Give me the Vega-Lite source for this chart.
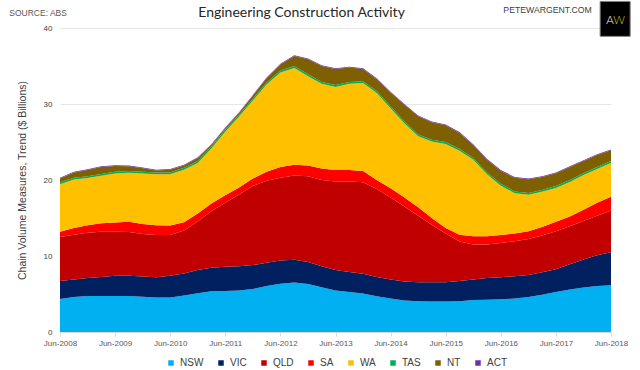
{"$schema":"https://vega.github.io/schema/vega-lite/v6.json","width":551,"height":304,"autosize":"none","padding":{"left":60,"top":28,"right":29,"bottom":38},"background":"white",
"datasets":{"notes":[{"t":"SOURCE: ABS","d":"2007/07/01","v":42.0}],"notesr":[{"t":"PETEWARGENT.COM","d":"2018/01/25","v":42.35}],"heading":[{"t":"Engineering Construction Activity","d":"2012/10/19","v":41.95}],"logo":[{"a":"2018/03/21","b":"2018/10/06","lo":38.9,"hi":43.5}],"logoa":[{"t":"A","d":"2018/05/25","v":40.9}],"logow":[{"t":"W","d":"2018/07/25","v":40.9}],
"main":[
{"d":"2008/06/01","s":"NSW","r":1,"v":4.35},{"d":"2008/09/01","s":"NSW","r":1,"v":4.6},{"d":"2008/12/01","s":"NSW","r":1,"v":4.75},{"d":"2009/03/01","s":"NSW","r":1,"v":4.75},{"d":"2009/06/01","s":"NSW","r":1,"v":4.75},{"d":"2009/09/01","s":"NSW","r":1,"v":4.75},{"d":"2009/12/01","s":"NSW","r":1,"v":4.65},{"d":"2010/03/01","s":"NSW","r":1,"v":4.55},{"d":"2010/06/01","s":"NSW","r":1,"v":4.55},{"d":"2010/09/01","s":"NSW","r":1,"v":4.8},{"d":"2010/12/01","s":"NSW","r":1,"v":5.1},{"d":"2011/03/01","s":"NSW","r":1,"v":5.35},{"d":"2011/06/01","s":"NSW","r":1,"v":5.4},{"d":"2011/09/01","s":"NSW","r":1,"v":5.45},{"d":"2011/12/01","s":"NSW","r":1,"v":5.65},{"d":"2012/03/01","s":"NSW","r":1,"v":6.05},{"d":"2012/06/01","s":"NSW","r":1,"v":6.35},{"d":"2012/09/01","s":"NSW","r":1,"v":6.5},{"d":"2012/12/01","s":"NSW","r":1,"v":6.3},{"d":"2013/03/01","s":"NSW","r":1,"v":5.9},{"d":"2013/06/01","s":"NSW","r":1,"v":5.45},{"d":"2013/09/01","s":"NSW","r":1,"v":5.25},{"d":"2013/12/01","s":"NSW","r":1,"v":5.05},{"d":"2014/03/01","s":"NSW","r":1,"v":4.7},{"d":"2014/06/01","s":"NSW","r":1,"v":4.4},{"d":"2014/09/01","s":"NSW","r":1,"v":4.15},{"d":"2014/12/01","s":"NSW","r":1,"v":4.05},{"d":"2015/03/01","s":"NSW","r":1,"v":4.0},{"d":"2015/06/01","s":"NSW","r":1,"v":4.0},{"d":"2015/09/01","s":"NSW","r":1,"v":4.05},{"d":"2015/12/01","s":"NSW","r":1,"v":4.2},{"d":"2016/03/01","s":"NSW","r":1,"v":4.25},{"d":"2016/06/01","s":"NSW","r":1,"v":4.3},{"d":"2016/09/01","s":"NSW","r":1,"v":4.4},{"d":"2016/12/01","s":"NSW","r":1,"v":4.6},{"d":"2017/03/01","s":"NSW","r":1,"v":4.9},{"d":"2017/06/01","s":"NSW","r":1,"v":5.25},{"d":"2017/09/01","s":"NSW","r":1,"v":5.6},{"d":"2017/12/01","s":"NSW","r":1,"v":5.85},{"d":"2018/03/01","s":"NSW","r":1,"v":6.05},{"d":"2018/06/01","s":"NSW","r":1,"v":6.15},
{"d":"2008/06/01","s":"VIC","r":2,"v":2.35},{"d":"2008/09/01","s":"VIC","r":2,"v":2.3},{"d":"2008/12/01","s":"VIC","r":2,"v":2.35},{"d":"2009/03/01","s":"VIC","r":2,"v":2.5},{"d":"2009/06/01","s":"VIC","r":2,"v":2.65},{"d":"2009/09/01","s":"VIC","r":2,"v":2.65},{"d":"2009/12/01","s":"VIC","r":2,"v":2.65},{"d":"2010/03/01","s":"VIC","r":2,"v":2.65},{"d":"2010/06/01","s":"VIC","r":2,"v":2.85},{"d":"2010/09/01","s":"VIC","r":2,"v":2.9},{"d":"2010/12/01","s":"VIC","r":2,"v":3.05},{"d":"2011/03/01","s":"VIC","r":2,"v":3.1},{"d":"2011/06/01","s":"VIC","r":2,"v":3.2},{"d":"2011/09/01","s":"VIC","r":2,"v":3.2},{"d":"2011/12/01","s":"VIC","r":2,"v":3.15},{"d":"2012/03/01","s":"VIC","r":2,"v":3.05},{"d":"2012/06/01","s":"VIC","r":2,"v":3.05},{"d":"2012/09/01","s":"VIC","r":2,"v":3.0},{"d":"2012/12/01","s":"VIC","r":2,"v":2.9},{"d":"2013/03/01","s":"VIC","r":2,"v":2.75},{"d":"2013/06/01","s":"VIC","r":2,"v":2.7},{"d":"2013/09/01","s":"VIC","r":2,"v":2.65},{"d":"2013/12/01","s":"VIC","r":2,"v":2.6},{"d":"2014/03/01","s":"VIC","r":2,"v":2.55},{"d":"2014/06/01","s":"VIC","r":2,"v":2.5},{"d":"2014/09/01","s":"VIC","r":2,"v":2.5},{"d":"2014/12/01","s":"VIC","r":2,"v":2.5},{"d":"2015/03/01","s":"VIC","r":2,"v":2.55},{"d":"2015/06/01","s":"VIC","r":2,"v":2.55},{"d":"2015/09/01","s":"VIC","r":2,"v":2.65},{"d":"2015/12/01","s":"VIC","r":2,"v":2.7},{"d":"2016/03/01","s":"VIC","r":2,"v":2.85},{"d":"2016/06/01","s":"VIC","r":2,"v":2.9},{"d":"2016/09/01","s":"VIC","r":2,"v":2.95},{"d":"2016/12/01","s":"VIC","r":2,"v":2.9},{"d":"2017/03/01","s":"VIC","r":2,"v":2.95},{"d":"2017/06/01","s":"VIC","r":2,"v":3.0},{"d":"2017/09/01","s":"VIC","r":2,"v":3.3},{"d":"2017/12/01","s":"VIC","r":2,"v":3.7},{"d":"2018/03/01","s":"VIC","r":2,"v":4.05},{"d":"2018/06/01","s":"VIC","r":2,"v":4.35},
{"d":"2008/06/01","s":"QLD","r":3,"v":5.8},{"d":"2008/09/01","s":"QLD","r":3,"v":5.9},{"d":"2008/12/01","s":"QLD","r":3,"v":5.95},{"d":"2009/03/01","s":"QLD","r":3,"v":5.95},{"d":"2009/06/01","s":"QLD","r":3,"v":5.8},{"d":"2009/09/01","s":"QLD","r":3,"v":5.75},{"d":"2009/12/01","s":"QLD","r":3,"v":5.6},{"d":"2010/03/01","s":"QLD","r":3,"v":5.55},{"d":"2010/06/01","s":"QLD","r":3,"v":5.35},{"d":"2010/09/01","s":"QLD","r":3,"v":5.65},{"d":"2010/12/01","s":"QLD","r":3,"v":6.4},{"d":"2011/03/01","s":"QLD","r":3,"v":7.45},{"d":"2011/06/01","s":"QLD","r":3,"v":8.4},{"d":"2011/09/01","s":"QLD","r":3,"v":9.45},{"d":"2011/12/01","s":"QLD","r":3,"v":10.4},{"d":"2012/03/01","s":"QLD","r":3,"v":10.8},{"d":"2012/06/01","s":"QLD","r":3,"v":10.9},{"d":"2012/09/01","s":"QLD","r":3,"v":11.1},{"d":"2012/12/01","s":"QLD","r":3,"v":11.3},{"d":"2013/03/01","s":"QLD","r":3,"v":11.35},{"d":"2013/06/01","s":"QLD","r":3,"v":11.65},{"d":"2013/09/01","s":"QLD","r":3,"v":11.9},{"d":"2013/12/01","s":"QLD","r":3,"v":12.05},{"d":"2014/03/01","s":"QLD","r":3,"v":11.55},{"d":"2014/06/01","s":"QLD","r":3,"v":10.8},{"d":"2014/09/01","s":"QLD","r":3,"v":9.85},{"d":"2014/12/01","s":"QLD","r":3,"v":8.75},{"d":"2015/03/01","s":"QLD","r":3,"v":7.55},{"d":"2015/06/01","s":"QLD","r":3,"v":6.4},{"d":"2015/09/01","s":"QLD","r":3,"v":5.2},{"d":"2015/12/01","s":"QLD","r":3,"v":4.6},{"d":"2016/03/01","s":"QLD","r":3,"v":4.4},{"d":"2016/06/01","s":"QLD","r":3,"v":4.5},{"d":"2016/09/01","s":"QLD","r":3,"v":4.6},{"d":"2016/12/01","s":"QLD","r":3,"v":4.75},{"d":"2017/03/01","s":"QLD","r":3,"v":4.85},{"d":"2017/06/01","s":"QLD","r":3,"v":5.0},{"d":"2017/09/01","s":"QLD","r":3,"v":5.0},{"d":"2017/12/01","s":"QLD","r":3,"v":5.05},{"d":"2018/03/01","s":"QLD","r":3,"v":5.2},{"d":"2018/06/01","s":"QLD","r":3,"v":5.5},
{"d":"2008/06/01","s":"SA","r":4,"v":0.7},{"d":"2008/09/01","s":"SA","r":4,"v":0.9},{"d":"2008/12/01","s":"SA","r":4,"v":1.0},{"d":"2009/03/01","s":"SA","r":4,"v":1.1},{"d":"2009/06/01","s":"SA","r":4,"v":1.2},{"d":"2009/09/01","s":"SA","r":4,"v":1.35},{"d":"2009/12/01","s":"SA","r":4,"v":1.3},{"d":"2010/03/01","s":"SA","r":4,"v":1.3},{"d":"2010/06/01","s":"SA","r":4,"v":1.25},{"d":"2010/09/01","s":"SA","r":4,"v":1.1},{"d":"2010/12/01","s":"SA","r":4,"v":1.05},{"d":"2011/03/01","s":"SA","r":4,"v":1.0},{"d":"2011/06/01","s":"SA","r":4,"v":1.0},{"d":"2011/09/01","s":"SA","r":4,"v":0.9},{"d":"2011/12/01","s":"SA","r":4,"v":1.0},{"d":"2012/03/01","s":"SA","r":4,"v":1.2},{"d":"2012/06/01","s":"SA","r":4,"v":1.4},{"d":"2012/09/01","s":"SA","r":4,"v":1.4},{"d":"2012/12/01","s":"SA","r":4,"v":1.4},{"d":"2013/03/01","s":"SA","r":4,"v":1.5},{"d":"2013/06/01","s":"SA","r":4,"v":1.5},{"d":"2013/09/01","s":"SA","r":4,"v":1.5},{"d":"2013/12/01","s":"SA","r":4,"v":1.5},{"d":"2014/03/01","s":"SA","r":4,"v":1.2},{"d":"2014/06/01","s":"SA","r":4,"v":1.2},{"d":"2014/09/01","s":"SA","r":4,"v":1.2},{"d":"2014/12/01","s":"SA","r":4,"v":1.1},{"d":"2015/03/01","s":"SA","r":4,"v":0.9},{"d":"2015/06/01","s":"SA","r":4,"v":0.75},{"d":"2015/09/01","s":"SA","r":4,"v":0.9},{"d":"2015/12/01","s":"SA","r":4,"v":1.1},{"d":"2016/03/01","s":"SA","r":4,"v":1.1},{"d":"2016/06/01","s":"SA","r":4,"v":1.05},{"d":"2016/09/01","s":"SA","r":4,"v":1.0},{"d":"2016/12/01","s":"SA","r":4,"v":1.0},{"d":"2017/03/01","s":"SA","r":4,"v":1.1},{"d":"2017/06/01","s":"SA","r":4,"v":1.25},{"d":"2017/09/01","s":"SA","r":4,"v":1.3},{"d":"2017/12/01","s":"SA","r":4,"v":1.5},{"d":"2018/03/01","s":"SA","r":4,"v":1.7},{"d":"2018/06/01","s":"SA","r":4,"v":1.8},
{"d":"2008/06/01","s":"WA","r":5,"v":6.25},{"d":"2008/09/01","s":"WA","r":5,"v":6.35},{"d":"2008/12/01","s":"WA","r":5,"v":6.2},{"d":"2009/03/01","s":"WA","r":5,"v":6.25},{"d":"2009/06/01","s":"WA","r":5,"v":6.45},{"d":"2009/09/01","s":"WA","r":5,"v":6.45},{"d":"2009/12/01","s":"WA","r":5,"v":6.65},{"d":"2010/03/01","s":"WA","r":5,"v":6.7},{"d":"2010/06/01","s":"WA","r":5,"v":6.75},{"d":"2010/09/01","s":"WA","r":5,"v":6.9},{"d":"2010/12/01","s":"WA","r":5,"v":6.65},{"d":"2011/03/01","s":"WA","r":5,"v":7.25},{"d":"2011/06/01","s":"WA","r":5,"v":8.35},{"d":"2011/09/01","s":"WA","r":5,"v":9.35},{"d":"2011/12/01","s":"WA","r":5,"v":10.25},{"d":"2012/03/01","s":"WA","r":5,"v":11.45},{"d":"2012/06/01","s":"WA","r":5,"v":12.45},{"d":"2012/09/01","s":"WA","r":5,"v":12.75},{"d":"2012/12/01","s":"WA","r":5,"v":11.75},{"d":"2013/03/01","s":"WA","r":5,"v":11.15},{"d":"2013/06/01","s":"WA","r":5,"v":10.95},{"d":"2013/09/01","s":"WA","r":5,"v":11.35},{"d":"2013/12/01","s":"WA","r":5,"v":11.55},{"d":"2014/03/01","s":"WA","r":5,"v":11.45},{"d":"2014/06/01","s":"WA","r":5,"v":10.55},{"d":"2014/09/01","s":"WA","r":5,"v":9.75},{"d":"2014/12/01","s":"WA","r":5,"v":9.35},{"d":"2015/03/01","s":"WA","r":5,"v":10.05},{"d":"2015/06/01","s":"WA","r":5,"v":11.05},{"d":"2015/09/01","s":"WA","r":5,"v":11.05},{"d":"2015/12/01","s":"WA","r":5,"v":10.05},{"d":"2016/03/01","s":"WA","r":5,"v":8.15},{"d":"2016/06/01","s":"WA","r":5,"v":6.5},{"d":"2016/09/01","s":"WA","r":5,"v":5.3},{"d":"2016/12/01","s":"WA","r":5,"v":4.8},{"d":"2017/03/01","s":"WA","r":5,"v":4.65},{"d":"2017/06/01","s":"WA","r":5,"v":4.45},{"d":"2017/09/01","s":"WA","r":5,"v":4.55},{"d":"2017/12/01","s":"WA","r":5,"v":4.55},{"d":"2018/03/01","s":"WA","r":5,"v":4.45},{"d":"2018/06/01","s":"WA","r":5,"v":4.45},
{"d":"2008/06/01","s":"TAS","r":6,"v":0.25},{"d":"2008/09/01","s":"TAS","r":6,"v":0.25},{"d":"2008/12/01","s":"TAS","r":6,"v":0.25},{"d":"2009/03/01","s":"TAS","r":6,"v":0.25},{"d":"2009/06/01","s":"TAS","r":6,"v":0.25},{"d":"2009/09/01","s":"TAS","r":6,"v":0.25},{"d":"2009/12/01","s":"TAS","r":6,"v":0.25},{"d":"2010/03/01","s":"TAS","r":6,"v":0.25},{"d":"2010/06/01","s":"TAS","r":6,"v":0.25},{"d":"2010/09/01","s":"TAS","r":6,"v":0.25},{"d":"2010/12/01","s":"TAS","r":6,"v":0.25},{"d":"2011/03/01","s":"TAS","r":6,"v":0.25},{"d":"2011/06/01","s":"TAS","r":6,"v":0.25},{"d":"2011/09/01","s":"TAS","r":6,"v":0.25},{"d":"2011/12/01","s":"TAS","r":6,"v":0.25},{"d":"2012/03/01","s":"TAS","r":6,"v":0.25},{"d":"2012/06/01","s":"TAS","r":6,"v":0.25},{"d":"2012/09/01","s":"TAS","r":6,"v":0.25},{"d":"2012/12/01","s":"TAS","r":6,"v":0.25},{"d":"2013/03/01","s":"TAS","r":6,"v":0.25},{"d":"2013/06/01","s":"TAS","r":6,"v":0.25},{"d":"2013/09/01","s":"TAS","r":6,"v":0.25},{"d":"2013/12/01","s":"TAS","r":6,"v":0.25},{"d":"2014/03/01","s":"TAS","r":6,"v":0.25},{"d":"2014/06/01","s":"TAS","r":6,"v":0.25},{"d":"2014/09/01","s":"TAS","r":6,"v":0.25},{"d":"2014/12/01","s":"TAS","r":6,"v":0.25},{"d":"2015/03/01","s":"TAS","r":6,"v":0.25},{"d":"2015/06/01","s":"TAS","r":6,"v":0.25},{"d":"2015/09/01","s":"TAS","r":6,"v":0.25},{"d":"2015/12/01","s":"TAS","r":6,"v":0.25},{"d":"2016/03/01","s":"TAS","r":6,"v":0.25},{"d":"2016/06/01","s":"TAS","r":6,"v":0.25},{"d":"2016/09/01","s":"TAS","r":6,"v":0.25},{"d":"2016/12/01","s":"TAS","r":6,"v":0.25},{"d":"2017/03/01","s":"TAS","r":6,"v":0.25},{"d":"2017/06/01","s":"TAS","r":6,"v":0.25},{"d":"2017/09/01","s":"TAS","r":6,"v":0.25},{"d":"2017/12/01","s":"TAS","r":6,"v":0.25},{"d":"2018/03/01","s":"TAS","r":6,"v":0.25},{"d":"2018/06/01","s":"TAS","r":6,"v":0.25},
{"d":"2008/06/01","s":"NT","r":7,"v":0.5},{"d":"2008/09/01","s":"NT","r":7,"v":0.7},{"d":"2008/12/01","s":"NT","r":7,"v":0.8},{"d":"2009/03/01","s":"NT","r":7,"v":0.9},{"d":"2009/06/01","s":"NT","r":7,"v":0.75},{"d":"2009/09/01","s":"NT","r":7,"v":0.6},{"d":"2009/12/01","s":"NT","r":7,"v":0.45},{"d":"2010/03/01","s":"NT","r":7,"v":0.25},{"d":"2010/06/01","s":"NT","r":7,"v":0.35},{"d":"2010/09/01","s":"NT","r":7,"v":0.3},{"d":"2010/12/01","s":"NT","r":7,"v":0.4},{"d":"2011/03/01","s":"NT","r":7,"v":0.2},{"d":"2011/06/01","s":"NT","r":7,"v":0.2},{"d":"2011/09/01","s":"NT","r":7,"v":0.2},{"d":"2011/12/01","s":"NT","r":7,"v":0.4},{"d":"2012/03/01","s":"NT","r":7,"v":0.6},{"d":"2012/06/01","s":"NT","r":7,"v":0.8},{"d":"2012/09/01","s":"NT","r":7,"v":1.3},{"d":"2012/12/01","s":"NT","r":7,"v":2.0},{"d":"2013/03/01","s":"NT","r":7,"v":2.1},{"d":"2013/06/01","s":"NT","r":7,"v":2.1},{"d":"2013/09/01","s":"NT","r":7,"v":1.9},{"d":"2013/12/01","s":"NT","r":7,"v":1.6},{"d":"2014/03/01","s":"NT","r":7,"v":1.6},{"d":"2014/06/01","s":"NT","r":7,"v":1.8},{"d":"2014/09/01","s":"NT","r":7,"v":2.2},{"d":"2014/12/01","s":"NT","r":7,"v":2.4},{"d":"2015/03/01","s":"NT","r":7,"v":2.3},{"d":"2015/06/01","s":"NT","r":7,"v":2.2},{"d":"2015/09/01","s":"NT","r":7,"v":2.1},{"d":"2015/12/01","s":"NT","r":7,"v":1.7},{"d":"2016/03/01","s":"NT","r":7,"v":1.7},{"d":"2016/06/01","s":"NT","r":7,"v":1.7},{"d":"2016/09/01","s":"NT","r":7,"v":1.8},{"d":"2016/12/01","s":"NT","r":7,"v":1.8},{"d":"2017/03/01","s":"NT","r":7,"v":1.7},{"d":"2017/06/01","s":"NT","r":7,"v":1.7},{"d":"2017/09/01","s":"NT","r":7,"v":1.7},{"d":"2017/12/01","s":"NT","r":7,"v":1.6},{"d":"2018/03/01","s":"NT","r":7,"v":1.6},{"d":"2018/06/01","s":"NT","r":7,"v":1.4},
{"d":"2008/06/01","s":"ACT","r":8,"v":0.1},{"d":"2008/09/01","s":"ACT","r":8,"v":0.1},{"d":"2008/12/01","s":"ACT","r":8,"v":0.1},{"d":"2009/03/01","s":"ACT","r":8,"v":0.1},{"d":"2009/06/01","s":"ACT","r":8,"v":0.1},{"d":"2009/09/01","s":"ACT","r":8,"v":0.1},{"d":"2009/12/01","s":"ACT","r":8,"v":0.1},{"d":"2010/03/01","s":"ACT","r":8,"v":0.1},{"d":"2010/06/01","s":"ACT","r":8,"v":0.1},{"d":"2010/09/01","s":"ACT","r":8,"v":0.1},{"d":"2010/12/01","s":"ACT","r":8,"v":0.1},{"d":"2011/03/01","s":"ACT","r":8,"v":0.1},{"d":"2011/06/01","s":"ACT","r":8,"v":0.1},{"d":"2011/09/01","s":"ACT","r":8,"v":0.1},{"d":"2011/12/01","s":"ACT","r":8,"v":0.1},{"d":"2012/03/01","s":"ACT","r":8,"v":0.1},{"d":"2012/06/01","s":"ACT","r":8,"v":0.1},{"d":"2012/09/01","s":"ACT","r":8,"v":0.1},{"d":"2012/12/01","s":"ACT","r":8,"v":0.1},{"d":"2013/03/01","s":"ACT","r":8,"v":0.1},{"d":"2013/06/01","s":"ACT","r":8,"v":0.1},{"d":"2013/09/01","s":"ACT","r":8,"v":0.1},{"d":"2013/12/01","s":"ACT","r":8,"v":0.1},{"d":"2014/03/01","s":"ACT","r":8,"v":0.1},{"d":"2014/06/01","s":"ACT","r":8,"v":0.1},{"d":"2014/09/01","s":"ACT","r":8,"v":0.1},{"d":"2014/12/01","s":"ACT","r":8,"v":0.1},{"d":"2015/03/01","s":"ACT","r":8,"v":0.1},{"d":"2015/06/01","s":"ACT","r":8,"v":0.1},{"d":"2015/09/01","s":"ACT","r":8,"v":0.1},{"d":"2015/12/01","s":"ACT","r":8,"v":0.1},{"d":"2016/03/01","s":"ACT","r":8,"v":0.1},{"d":"2016/06/01","s":"ACT","r":8,"v":0.1},{"d":"2016/09/01","s":"ACT","r":8,"v":0.1},{"d":"2016/12/01","s":"ACT","r":8,"v":0.1},{"d":"2017/03/01","s":"ACT","r":8,"v":0.1},{"d":"2017/06/01","s":"ACT","r":8,"v":0.1},{"d":"2017/09/01","s":"ACT","r":8,"v":0.1},{"d":"2017/12/01","s":"ACT","r":8,"v":0.1},{"d":"2018/03/01","s":"ACT","r":8,"v":0.1},{"d":"2018/06/01","s":"ACT","r":8,"v":0.1}
]},
"config":{"view":{"stroke":null}},
"layer":[
{"data":{"name":"main"},"mark":{"type":"area","interpolate":"linear"},
"encoding":{
"x":{"field":"d","type":"temporal","scale":{"domain":[{"year":2008,"month":"jun","date":1},{"year":2018,"month":"jun","date":1}]},
"axis":{"title":null,"format":"%b-%Y","values":[{"year":2008,"month":"jun","date":1},{"year":2009,"month":"jun","date":1},{"year":2010,"month":"jun","date":1},{"year":2011,"month":"jun","date":1},{"year":2012,"month":"jun","date":1},{"year":2013,"month":"jun","date":1},{"year":2014,"month":"jun","date":1},{"year":2015,"month":"jun","date":1},{"year":2016,"month":"jun","date":1},{"year":2017,"month":"jun","date":1},{"year":2018,"month":"jun","date":1}],"grid":false,"labelFont":"Liberation Sans","labelFontSize":8,"labelColor":"#595959","labelPadding":3,"labelAngle":0,"labelFlush":false,"labelOverlap":false,"tickColor":"#d9d9d9","tickSize":4,"domainColor":"#d9d9d9"}},
"y":{"field":"v","type":"quantitative","stack":"zero","scale":{"domain":[0,40],"nice":false},
"axis":{"values":[0,10,20,30,40],"title":"Chain Volume Measures, Trend ($ Billions)","titleFont":"Liberation Sans","titleFontSize":10.5,"titleFontWeight":"normal","titleColor":"#404040","titlePadding":16,"labelFont":"Liberation Sans","labelFontSize":8,"labelColor":"#404040","labelPadding":8,"ticks":false,"domain":false,"grid":true,"gridColor":"#e6e6e6"}},
"order":{"field":"r","type":"quantitative","sort":"ascending"},
"color":{"field":"s","type":"nominal","sort":["NSW","VIC","QLD","SA","WA","TAS","NT","ACT"],"scale":{"domain":["NSW","VIC","QLD","SA","WA","TAS","NT","ACT"],"range":["#00B0F0","#002060","#C00000","#FF0000","#FFC000","#00B050","#7F6000","#7030A0"]},
"legend":{"title":null,"orient":"none","direction":"horizontal","columns":8,"legendX":106,"legendY":330,"symbolType":"square","symbolSize":30,"symbolStrokeWidth":0,"labelFont":"Liberation Sans","labelFontSize":10,"labelColor":"#404040","columnPadding":12,"gridAlign":"none","labelOffset":4}}
}},
{"data":{"name":"heading"},"mark":{"type":"text","align":"center","baseline":"middle","font":"Lato","fontSize":14,"color":"#262626"},"encoding":{"x":{"field":"d","type":"temporal"},"y":{"field":"v","type":"quantitative"},"text":{"field":"t"}}},
{"data":{"name":"notes"},"mark":{"type":"text","align":"left","baseline":"middle","font":"Liberation Sans","fontSize":8.5,"color":"#595959"},"encoding":{"x":{"field":"d","type":"temporal"},"y":{"field":"v","type":"quantitative"},"text":{"field":"t"}}},
{"data":{"name":"notesr"},"mark":{"type":"text","align":"right","baseline":"middle","font":"Liberation Sans","fontSize":8.7,"color":"#404040"},"encoding":{"x":{"field":"d","type":"temporal"},"y":{"field":"v","type":"quantitative"},"text":{"field":"t"}}},
{"data":{"name":"logo"},"mark":{"type":"rect","color":"#000000","stroke":"#7f7f7f","strokeWidth":1},"encoding":{"x":{"field":"a","type":"temporal"},"x2":{"field":"b"},"y":{"field":"lo","type":"quantitative"},"y2":{"field":"hi"}}},
{"data":{"name":"logoa"},"mark":{"type":"text","align":"center","baseline":"middle","font":"Lato","fontWeight":300,"fontSize":11.5,"color":"#ffffff"},"encoding":{"x":{"field":"d","type":"temporal"},"y":{"field":"v","type":"quantitative"},"text":{"field":"t"}}},
{"data":{"name":"logow"},"mark":{"type":"text","align":"center","baseline":"middle","font":"Lato","fontWeight":300,"fontSize":11.5,"color":"#d9c62b"},"encoding":{"x":{"field":"d","type":"temporal"},"y":{"field":"v","type":"quantitative"},"text":{"field":"t"}}}
]}
